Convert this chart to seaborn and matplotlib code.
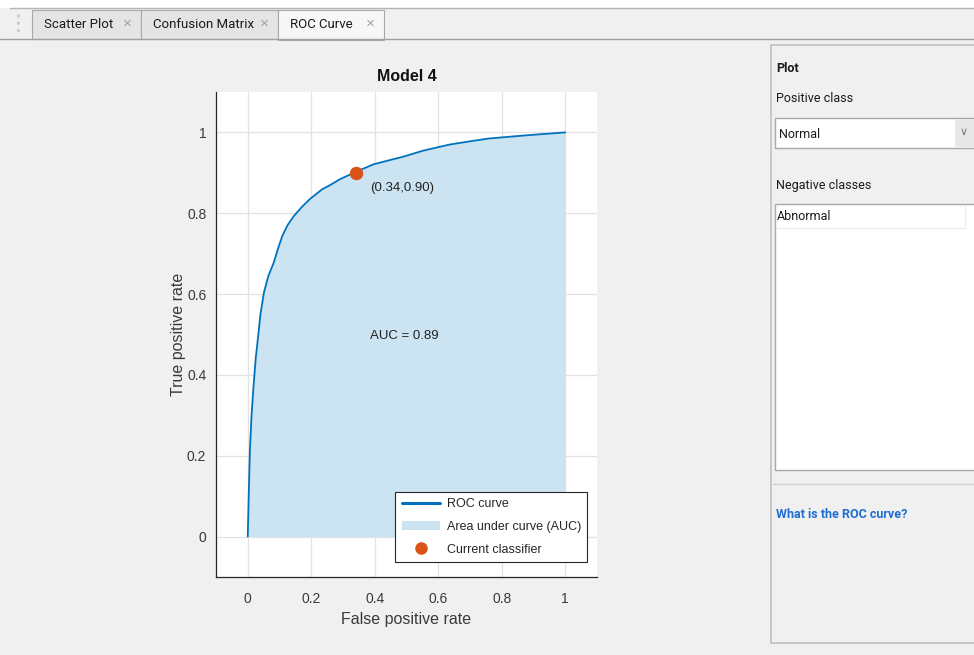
import numpy as np
import pandas as pd
import matplotlib
matplotlib.use("Agg")
import matplotlib.pyplot as plt
from matplotlib.patches import Rectangle, Patch
from matplotlib.lines import Line2D
import seaborn as sns

# ROC points (Model 4)
fpr = [0, 0.003, 0.007, 0.012, 0.018, 0.025, 0.032, 0.04, 0.051, 0.065, 0.082,
       0.095, 0.109, 0.125, 0.145, 0.171, 0.197, 0.234, 0.26, 0.29, 0.342,
       0.396, 0.44, 0.49, 0.553, 0.636, 0.70, 0.76, 0.88, 1.0]
tpr = [0, 0.10, 0.217, 0.30, 0.37, 0.44, 0.49, 0.55, 0.604, 0.645, 0.678,
       0.712, 0.744, 0.770, 0.793, 0.816, 0.836, 0.859, 0.870, 0.884, 0.903,
       0.921, 0.930, 0.940, 0.955, 0.970, 0.978, 0.985, 0.993, 1.0]
current_point = (0.34, 0.90)
auc_value = 0.89
ticks = [0, 0.2, 0.4, 0.6, 0.8, 1]
tick_labels = ["0", "0.2", "0.4", "0.6", "0.8", "1"]
tab_names = ["Scatter Plot", "Confusion Matrix", "ROC Curve"]
positive_class = "Normal"
negative_classes = ["Abnormal"]

df = pd.DataFrame({"fpr": fpr, "tpr": tpr})

sns.set_style("white")
plt.rcParams["font.family"] = ["Liberation Sans", "DejaVu Sans"]
ui_font = ["Roboto", "DejaVu Sans"]

W, H = 974, 655
fig = plt.figure(figsize=(W / 100, H / 100), dpi=100, facecolor="#f0f0f0")


def box(x0, y0, x1, y1, fc, ec="none", lw=1.0, z=0):
    # pixel coords, y measured from the top
    r = Rectangle((x0 / W, 1 - y1 / H), (x1 - x0) / W, (y1 - y0) / H,
                  transform=fig.transFigure, facecolor=fc, edgecolor=ec,
                  linewidth=lw, zorder=z)
    fig.add_artist(r)


def txt(x, y, s, **kw):
    fig.text(x / W, 1 - y / H, s, va="center", ha="left", **kw)


# tab strip
box(0, 0, W, 8, "white")
fig.add_artist(Line2D([10 / W, 1], [1 - 8 / H] * 2, color="#b4b4b4", lw=1))
fig.add_artist(Line2D([0, 1], [1 - 39 / H] * 2, color="#a0a0a0", lw=1))
fig.add_artist(Line2D([18 / W] * 2, [1 - 14 / H, 1 - 34 / H], color="#c8c8c8", lw=2, ls=":"))
tab_edges = [(32, 141), (141, 278), (278, 384)]
for (a, b), name in zip(tab_edges, tab_names):
    active = name == "ROC Curve"
    box(a, 10, b, 39 if not active else 40, "#f7f7f7" if active else "#e4e4e4",
        ec="#a8a8a8", lw=0.8, z=1)
    txt(a + 12, 24, name, fontsize=9.5, color="#1a1a1a", family=ui_font, zorder=2)
    txt(b - 18, 24, "\u00d7", fontsize=11, color="#a0a0a0", zorder=2)

# right panel
fig.add_artist(Line2D([771 / W] * 2, [1 - 45 / H, 1 - 643 / H], color="#c0c0c0", lw=1.2))
fig.add_artist(Line2D([771 / W, 1], [1 - 45 / H] * 2, color="#c0c0c0", lw=1.2))
fig.add_artist(Line2D([771 / W, 1], [1 - 643 / H] * 2, color="#c0c0c0", lw=1.2))
txt(776, 69, "Plot", fontsize=9, weight="bold", color="#1a1a1a", family=ui_font)
txt(776, 99, "Positive class", fontsize=9, color="#1a1a1a", family=ui_font)
box(775, 118, 978, 148, "white", ec="#a8a8a8", lw=1)
box(955, 119, 978, 147, "#e8e8e8")
txt(779, 134, positive_class, fontsize=9, color="#1a1a1a", family=ui_font)
txt(960, 132, "\u2228", fontsize=8, color="#777777")
txt(776, 185, "Negative classes", fontsize=9, color="#1a1a1a", family=ui_font)
box(775, 204, 978, 470, "white", ec="#a8a8a8", lw=1)
box(776, 205, 965, 228, "white", ec="#ececec", lw=0.8)
for i, c in enumerate(negative_classes):
    txt(777, 216 + i * 24, c, fontsize=9, color="#1a1a1a", family=ui_font)
fig.add_artist(Line2D([773 / W, 1], [1 - 484 / H] * 2, color="#d0d0d0", lw=1))
txt(776, 514, "What is the ROC curve?", fontsize=9, weight="bold",
    color="#1f6fd1", family=ui_font)

# ROC axes
ax = fig.add_axes([216 / W, 1 - 577 / H, 381 / W, 485 / H])
ax.set_facecolor("white")
blue = "#0072BD"
orange = "#D95319"
fill = "#cce3f1"

ax.fill_between(df["fpr"], df["tpr"], 0, color=fill, lw=0, zorder=1)
sns.lineplot(data=df, x="fpr", y="tpr", ax=ax, color=blue, lw=1.3,
             zorder=3, sort=False)
sns.scatterplot(x=[current_point[0]], y=[current_point[1]], ax=ax, color=orange,
                s=80, edgecolor=orange, zorder=4)

ax.set_xlim(-0.1, 1.1)
ax.set_ylim(-0.1, 1.1)
ax.set_xticks(ticks, tick_labels)
ax.set_yticks(ticks, tick_labels)
ax.grid(True, color="#e2e2e2", lw=0.9)
ax.set_axisbelow(True)
for s in ["top", "right"]:
    ax.spines[s].set_visible(False)
for s in ["left", "bottom"]:
    ax.spines[s].set_color("#262626")
    ax.spines[s].set_linewidth(0.9)
ax.tick_params(axis="both", direction="in", length=4, width=0.8, colors="#262626",
               labelsize=10, labelcolor="#3a3a3a")
ax.tick_params(axis="x", pad=11)
ax.tick_params(axis="y", pad=7)

ax.set_title("Model 4", fontsize=11.5, weight="bold", color="#111111", pad=8)
ax.set_xlabel("False positive rate", fontsize=11.5, color="#3a3a3a")
ax.set_ylabel("True positive rate", fontsize=11.5, color="#3a3a3a")
ax.xaxis.set_label_coords(0.5, -0.072)
ax.yaxis.set_label_coords(-0.078, 0.5)

ax.text(0.386, 0.862, "({:.2f},{:.2f})".format(*current_point), fontsize=9.5,
        color="#222222", va="center", ha="left")
ax.text(0.386, 0.496, "AUC = {:.2f}".format(auc_value), fontsize=9.5,
        color="#222222", va="center", ha="left")

handles = [Line2D([], [], color=blue, lw=2.2),
           Patch(facecolor=fill, edgecolor="none"),
           Line2D([], [], ls="none", marker="o", color=orange, markersize=8)]
leg = ax.legend(handles, ["ROC curve", "Area under curve (AUC)", "Current classifier"],
                loc="lower right", bbox_to_anchor=(0.974, 0.031), borderaxespad=0,
                fontsize=9, frameon=True, fancybox=False, framealpha=1,
                edgecolor="#262626", handlelength=3.1, handletextpad=0.5,
                labelspacing=0.85, borderpad=0.5)
leg.get_frame().set_linewidth(0.8)

fig.savefig("out.png", dpi=100, facecolor=fig.get_facecolor())
